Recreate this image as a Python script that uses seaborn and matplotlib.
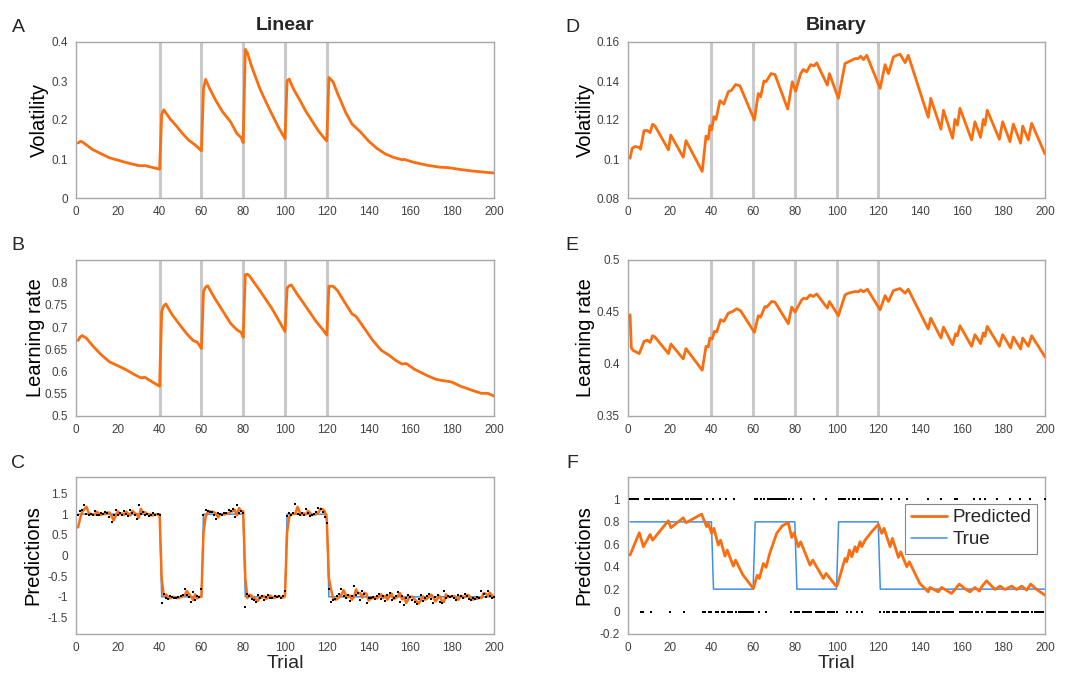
import numpy as np
import pandas as pd
import seaborn as sns
import matplotlib.pyplot as plt
from matplotlib.ticker import FuncFormatter

# change points (gray bars in the volatility / learning-rate panels)
change_points = [40, 60, 80, 100, 120]
block_edges = [0, 40, 60, 80, 100, 120, 200]
linear_levels = [1, -1, 1, -1, 1, -1]
binary_levels = [0.8, 0.2, 0.8, 0.2, 0.8, 0.2]

lin_vol_x = [1, 2, 3, 8, 16, 24, 30, 33, 40,
             41, 42, 45, 48, 51, 54, 57, 60,
             61, 62, 64, 67, 70, 74, 77, 79, 80,
             81, 82, 84, 88, 91, 94, 97, 100,
             101, 102, 104, 107, 110, 113, 116, 119, 120,
             121, 123, 125, 129, 132, 136, 140, 144, 148, 152, 156, 157,
             162, 168, 174, 178, 184, 190, 194, 200]
lin_vol_y = [0.141, 0.145, 0.144, 0.124, 0.103, 0.091, 0.083, 0.083, 0.074,
             0.215, 0.226, 0.203, 0.185, 0.165, 0.148, 0.136, 0.121,
             0.280, 0.304, 0.280, 0.249, 0.222, 0.195, 0.165, 0.155, 0.142,
             0.381, 0.372, 0.338, 0.280, 0.245, 0.212, 0.180, 0.152,
             0.300, 0.305, 0.280, 0.252, 0.222, 0.197, 0.172, 0.152, 0.146,
             0.309, 0.298, 0.270, 0.220, 0.190, 0.170, 0.146, 0.127, 0.113, 0.104, 0.098, 0.099,
             0.091, 0.084, 0.079, 0.078, 0.073, 0.069, 0.067, 0.064]

# B: linear learning rate
lin_lr_x = [1, 2, 3, 5, 8, 12, 16, 20, 24, 28, 31, 33, 36, 40,
            41, 42, 43, 46, 50, 53, 56, 58, 60,
            61, 62, 63, 66, 70, 74, 77, 79, 80,
            81, 82, 83, 88, 94, 100,
            101, 102, 103, 106, 109, 115, 118, 120,
            121, 123, 125, 128, 132, 134, 138, 142, 146, 150, 153, 156, 158,
            162, 168, 172, 175, 178, 180, 184, 190, 194, 197, 200]
lin_lr_y = [0.670, 0.678, 0.681, 0.675, 0.658, 0.638, 0.622, 0.613, 0.604, 0.593, 0.586, 0.587, 0.578, 0.567,
            0.735, 0.748, 0.752, 0.728, 0.703, 0.685, 0.670, 0.666, 0.652,
            0.780, 0.790, 0.793, 0.768, 0.738, 0.708, 0.694, 0.688, 0.677,
            0.818, 0.819, 0.815, 0.782, 0.740, 0.690,
            0.788, 0.793, 0.795, 0.773, 0.753, 0.712, 0.695, 0.682,
            0.792, 0.792, 0.783, 0.760, 0.730, 0.724, 0.697, 0.670, 0.648, 0.636, 0.625, 0.617, 0.618,
            0.605, 0.591, 0.583, 0.580, 0.578, 0.576, 0.567, 0.557, 0.551, 0.551, 0.545]

# C: linear observations and predictions (trials 1..200)
lin_obs = [0.97, 1.08, 1.10, 1.22, 1.00, 0.99, 1.01, 0.98, 1.08, 0.99, 0.97, 1.02, 1.00, 1.06, 1.04, 0.93, 0.80, 0.99, 1.10, 0.98,
           1.03, 0.97, 1.08, 1.00, 0.96, 1.10, 1.02, 0.99, 0.88, 1.22, 1.00, 1.05, 0.98, 1.00, 0.96, 0.97, 1.02, 0.98, 1.01, 0.97,
           -1.14, -0.92, -1.02, -1.05, -0.98, -1.01, -1.04, -1.03, -1.00, -0.97, -0.95, -0.82, -0.96, -1.01, -1.12, -0.88, -1.08, -0.98, -1.00, -0.80,
           0.98, 1.10, 1.08, 1.06, 1.05, 0.99, 0.88, 1.03, 1.00, 0.98, 1.04, 1.02, 1.09, 1.07, 1.12, 0.92, 1.22, 1.04, 1.08, 1.02,
           -1.25, -0.92, -0.97, -1.05, -1.08, -1.12, -0.96, -1.03, -0.97, -1.08, -1.00, -0.95, -1.02, -1.04, -0.98, -1.01, -0.99, -1.03, -0.97, -0.85,
           0.95, 1.02, 0.99, 1.03, 1.24, 1.00, 0.97, 1.04, 0.98, 1.12, 1.02, 0.96, 0.99, 1.01, 1.05, 1.16, 1.12, 1.05, 0.92, 0.78,
           -0.82, -1.12, -1.08, -1.05, -0.98, -0.93, -0.80, -0.97, -1.03, -0.95, -1.10, -0.98, -0.74, -0.96, -0.90, -1.07, -0.85, -0.94, -1.15, -1.02,
           -1.03, -1.00, -1.05, -0.98, -0.92, -1.06, -0.97, -1.10, -0.95, -0.90, -1.08, -1.02, -0.97, -0.88, -1.12, -0.99, -1.20, -1.04, -0.96, -1.00,
           -1.08, -1.13, -1.18, -1.05, -0.95, -1.10, -1.03, -0.97, -0.93, -1.05, -1.15, -1.01, -0.96, -1.12, -1.15, -0.86, -1.03, -0.98, -1.01, -0.97,
           -1.04, -1.08, -0.95, -0.99, -1.02, -0.93, -0.97, -1.05, -1.08, -1.03, -1.06, -1.01, -1.04, -0.86, -0.92, -1.00, -0.87, -0.98, -1.03, -1.01]
lin_pred = [0.68, 0.90, 1.06, 1.12, 1.18, 1.04, 1.00, 1.00, 0.99, 1.06, 1.01, 0.98, 1.01, 1.00, 1.04, 1.04, 0.96, 0.85, 0.96, 1.07,
            1.00, 1.02, 0.98, 1.06, 1.01, 0.97, 1.08, 1.03, 1.00, 0.91, 1.13, 1.04, 1.05, 1.00, 1.00, 0.97, 0.97, 1.00, 0.99, 1.00,
            -0.56, -0.97, -0.94, -1.00, -1.04, -1.00, -1.01, -1.03, -1.03, -1.01, -0.98, -0.96, -0.86, -0.93, -0.99, -1.08, -0.94, -1.04, -1.00, -1.00,
            0.55, 0.93, 1.05, 1.07, 1.06, 1.05, 1.01, 0.92, 1.00, 1.00, 0.99, 1.02, 1.02, 1.07, 1.07, 1.10, 0.97, 1.15, 1.07, 1.07,
            -0.55, -1.03, -0.95, -0.97, -1.03, -1.06, -1.10, -1.00, -1.02, -0.98, -1.05, -1.01, -0.97, -1.01, -1.03, -0.99, -1.00, -1.00, -1.02, -0.98,
            0.55, 0.93, 1.00, 1.00, 1.02, 1.18, 1.05, 0.99, 1.02, 0.99, 1.08, 1.03, 0.98, 0.99, 1.00, 1.04, 1.13, 1.12, 1.07, 0.86,
            -0.55, -0.82, -1.03, -1.07, -1.05, -1.00, -0.95, -0.84, -0.94, -1.01, -0.97, -1.07, -1.00, -0.82, -0.92, -0.91, -1.02, -0.90, -0.93, -1.09,
            -1.04, -1.03, -1.01, -1.04, -0.99, -0.94, -1.03, -0.98, -1.07, -0.97, -0.92, -1.05, -1.03, -0.98, -0.91, -1.06, -1.01, -1.15, -1.06, -0.99,
            -1.00, -1.06, -1.11, -1.16, -1.08, -0.99, -1.07, -1.04, -0.99, -0.95, -1.02, -1.11, -1.04, -0.98, -1.09, -1.13, -0.94, -1.01, -0.99, -1.00,
            -0.98, -1.03, -1.07, -0.98, -0.99, -1.01, -0.95, -0.97, -1.03, -1.07, -1.04, -1.05, -1.02, -1.03, -0.91, -0.92, -0.98, -0.90, -0.96, -1.01]

# D: binary volatility (vertices)
bin_vol_x = [1, 2, 3.4, 5.4, 6, 7.7, 9.3, 10.6, 11.8, 12.9, 19.4, 20.5, 26.5, 27.8, 35.6, 37.4, 38.5, 39.3, 40.1,
             41.2, 42.2, 44.1, 46, 48.1, 49.7, 51.6, 53.7, 60.6, 62.5, 63.6, 65.2, 66.2, 68.6, 70.5, 76.6, 78.8,
             80.4, 82.8, 84.1, 85.7, 87.6, 89.2, 90.5, 95.6, 96.6, 100.9, 104.1, 105.7, 108.9, 110.5, 111.6, 112.9,
             114.5, 120.9, 123.3, 124.9, 127.3, 128.9, 130.5, 132.9, 134.4, 144, 145.2, 150.1, 151.3, 155.7, 156.8,
             158, 159.2, 164.8, 166.4, 169.1, 170.4, 171.2, 172.3, 178.1, 179.7, 183.2, 184.8, 188.3, 189.3, 192,
             193.6, 200]
bin_vol_y = [0.1004, 0.1055, 0.1064, 0.1060, 0.1050, 0.1146, 0.1146, 0.1135, 0.1178, 0.1170, 0.1047, 0.1123, 0.1009,
             0.1094, 0.0936, 0.1118, 0.1101, 0.1171, 0.1149, 0.1217, 0.1203, 0.1299, 0.1282, 0.1345, 0.1353, 0.1382,
             0.1375, 0.1200, 0.1336, 0.1319, 0.1400, 0.1396, 0.1438, 0.1433, 0.1256, 0.1396, 0.1348, 0.1438, 0.1459,
             0.1447, 0.1484, 0.1477, 0.1493, 0.1379, 0.1438, 0.1311, 0.1490, 0.1498, 0.1515, 0.1515, 0.1527, 0.1510,
             0.1532, 0.1362, 0.1484, 0.1438, 0.1523, 0.1532, 0.1537, 0.1494, 0.1532, 0.1214, 0.1311, 0.1153, 0.1250,
             0.1106, 0.1203, 0.1174, 0.1260, 0.1098, 0.1191, 0.1111, 0.1203, 0.1174, 0.1250, 0.1101, 0.1191, 0.1089,
             0.1179, 0.1081, 0.1169, 0.1098, 0.1183, 0.1026]

# E: binary learning rate (vertices)
bin_lr_x = [1, 1.6, 2.6, 5.4, 7.7, 9.3, 10.6, 11.8, 12.9, 19.4, 20.6, 26.5, 27.8, 35.6, 37.4, 38.5, 39.3, 40.4,
            41.4, 42.5, 44.4, 46, 48.1, 50.2, 52.1, 54, 60.6, 62.5, 63.6, 65.7, 66.5, 68.9, 70.5, 76.9, 78.5, 80.1,
            83.3, 84.4, 85.7, 87.3, 88.9, 90.5, 95.6, 96.6, 100.9, 104.1, 105.7, 108.9, 110.5, 111.6, 112.9, 114.8,
            120.9, 123.3, 124.9, 127.3, 130.5, 132.9, 134.4, 144, 145.2, 150.1, 151.3, 155.7, 157.1, 158, 159.2,
            164.8, 166.4, 169.1, 170.4, 171.2, 172.3, 178.1, 179.7, 183.5, 184.8, 188.3, 189.3, 192, 193.6, 200]
bin_lr_y = [0.4473, 0.4154, 0.4129, 0.4100, 0.4218, 0.4228, 0.4208, 0.4272, 0.4260, 0.4100, 0.4192, 0.4049, 0.4148,
            0.3940, 0.4170, 0.4164, 0.4250, 0.4240, 0.4314, 0.4307, 0.4426, 0.4410, 0.4489, 0.4505, 0.4531, 0.4512,
            0.4304, 0.4464, 0.4451, 0.4553, 0.4547, 0.4601, 0.4595, 0.4387, 0.4547, 0.4499, 0.4617, 0.4633, 0.4627,
            0.4665, 0.4649, 0.4674, 0.4537, 0.4601, 0.4464, 0.4665, 0.4681, 0.4697, 0.4694, 0.4713, 0.4694, 0.4719,
            0.4521, 0.4658, 0.4601, 0.4706, 0.4726, 0.4681, 0.4719, 0.4336, 0.4441, 0.4250, 0.4355, 0.4186, 0.4291,
            0.4272, 0.4368, 0.4170, 0.4282, 0.4196, 0.4298, 0.4266, 0.4362, 0.4170, 0.4282, 0.4154, 0.4260, 0.4145,
            0.4250, 0.4170, 0.4272, 0.4068]

# F: binary outcomes (trials 1..200) and predicted probability (vertices)
bin_obs_rows = ["11111001110111111110",
                "11111101111111100100",
                "10010010001000000000",
                "11011011111111111010",
                "00100000100000100000",
                "11110101101011111111",
                "01000100010001000000",
                "00010000010000001100",
                "00000100101000001000",
                "00100001000010000001"]
bin_pred_x = [1, 5.4, 7.4, 10.6, 11.8, 19.3, 20.6, 26.5, 27.8, 35.3, 37.7, 38.5, 40.1, 41.2, 43.3, 44.4, 46.5, 47.6,
              50.5, 51.6, 55, 60.1, 62, 63, 64.9, 66.2, 68, 71.3, 74, 76.9, 78.5, 79.6, 81.7, 82.8, 87.3, 88.6, 93.7,
              95, 99.8, 100.4, 104.1, 104.9, 106.2, 107.3, 108.9, 109.7, 111.3, 112.1, 113.7, 117, 120.1, 121.7,
              122.8, 125.7, 126.8, 129.7, 130.8, 133.7, 134.9, 140, 144, 144.8, 148.8, 150.4, 155.2, 158.9, 162.1,
              164, 166.4, 168.5, 169.6, 172, 176, 178.4, 180.8, 184, 186.4, 188.8, 191.2, 193.1, 196, 200]
bin_pred_y = [0.504, 0.703, 0.578, 0.688, 0.637, 0.810, 0.748, 0.837, 0.792, 0.869, 0.757, 0.787, 0.697, 0.742, 0.593,
              0.637, 0.495, 0.548, 0.405, 0.459, 0.330, 0.206, 0.325, 0.295, 0.429, 0.394, 0.520, 0.697, 0.765, 0.792,
              0.661, 0.703, 0.578, 0.623, 0.414, 0.459, 0.295, 0.340, 0.227, 0.236, 0.474, 0.444, 0.548, 0.489, 0.578,
              0.533, 0.623, 0.578, 0.637, 0.715, 0.777, 0.697, 0.742, 0.578, 0.652, 0.483, 0.533, 0.400, 0.444, 0.250,
              0.176, 0.215, 0.176, 0.215, 0.161, 0.245, 0.197, 0.176, 0.215, 0.182, 0.221, 0.274, 0.197, 0.227, 0.197,
              0.227, 0.197, 0.227, 0.191, 0.245, 0.197, 0.146]

trials = np.arange(1, 201)
bin_obs = [int(c) for c in "".join(bin_obs_rows)]
block_len = np.diff(block_edges)
lin_true = np.repeat(linear_levels, block_len)
bin_true = np.repeat(binary_levels, block_len)

ORANGE = '#fb6e10'
BLUE = '#3f8fe8'
GRAY_BAR = '#c9c9c9'
TICK_COL = '#404040'
SPINE_COL = '#a8a8a8'

sns.set_style("white")
plt.rcParams['font.family'] = ['Liberation Sans', 'DejaVu Sans']

fig = plt.figure(figsize=(10.72, 6.76), dpi=100)
W, H = 1072, 676
def add_ax(x0, y0, x1, y1):
    return fig.add_axes([x0 / W, 1 - y1 / H, (x1 - x0) / W, (y1 - y0) / H])

axA = add_ax(76, 42, 494, 198)
axB = add_ax(76, 260, 494, 416)
axC = add_ax(76, 477, 494, 634)
axD = add_ax(628, 42, 1045, 198)
axE = add_ax(628, 260, 1045, 416)
axF = add_ax(628, 477, 1045, 634)

def g_fmt(v, pos):
    return '%g' % round(v, 4)

def style(ax, ylim, yticks, ylabel, labx):
    ax.set_xlim(0, 200)
    ax.set_ylim(*ylim)
    ax.set_xticks(range(0, 201, 20))
    ax.set_yticks(yticks)
    ax.yaxis.set_major_formatter(FuncFormatter(g_fmt))
    ax.tick_params(labelsize=8.5, colors=TICK_COL, direction='in', length=0, pad=6)
    for sp in ax.spines.values():
        sp.set_color(SPINE_COL)
        sp.set_linewidth(1.0)
    ax.set_ylabel(ylabel, fontsize=14.5, color='black')
    ax.yaxis.set_label_coords(labx, 0.5)
    ax.set_xlabel('')

def trial_label(ax):
    ax.set_xlabel('Trial', fontsize=14, va='center')
    ax.xaxis.set_label_coords(0.5, -0.19)

# A
for c in change_points:
    axA.axvline(c, color=GRAY_BAR, lw=2.2, zorder=1)
sns.lineplot(x=lin_vol_x, y=lin_vol_y, ax=axA, color=ORANGE, linewidth=2.0, zorder=3)
style(axA, (0, 0.4), [0, 0.1, 0.2, 0.3, 0.4], 'Volatility', -0.064)
axA.set_title('Linear', fontsize=14, fontweight='bold', pad=9)

# B
for c in change_points:
    axB.axvline(c, color=GRAY_BAR, lw=2.2, zorder=1)
sns.lineplot(x=lin_lr_x, y=lin_lr_y, ax=axB, color=ORANGE, linewidth=2.0, zorder=3)
style(axB, (0.5, 0.851), [0.5, 0.55, 0.6, 0.65, 0.7, 0.75, 0.8], 'Learning rate', -0.073)

# C
sns.lineplot(x=trials, y=lin_true, ax=axC, color=BLUE, linewidth=1.1, zorder=2)
sns.lineplot(x=trials, y=lin_pred, ax=axC, color=ORANGE, linewidth=1.8, zorder=3)
sns.scatterplot(x=trials, y=lin_obs, ax=axC, color='black', s=3, marker='s', linewidth=0, zorder=4)
style(axC, (-1.9, 1.9), [-1.5, -1, -0.5, 0, 0.5, 1, 1.5], 'Predictions', -0.08)
trial_label(axC)

# D
for c in change_points:
    axD.axvline(c, color=GRAY_BAR, lw=2.2, zorder=1)
sns.lineplot(x=bin_vol_x, y=bin_vol_y, ax=axD, color=ORANGE, linewidth=2.0, zorder=3)
style(axD, (0.08, 0.16), [0.08, 0.1, 0.12, 0.14, 0.16], 'Volatility', -0.08)
axD.set_title('Binary', fontsize=14, fontweight='bold', pad=9)

# E
for c in change_points:
    axE.axvline(c, color=GRAY_BAR, lw=2.2, zorder=1)
sns.lineplot(x=bin_lr_x, y=bin_lr_y, ax=axE, color=ORANGE, linewidth=2.0, zorder=3)
style(axE, (0.35, 0.5), [0.35, 0.4, 0.45, 0.5], 'Learning rate', -0.08)

# F
sns.scatterplot(x=trials, y=bin_obs, ax=axF, color='black', s=3.5, marker='s', linewidth=0, zorder=4)
sns.lineplot(x=trials, y=bin_true, ax=axF, color=BLUE, linewidth=1.1, zorder=2, label='True')
sns.lineplot(x=bin_pred_x, y=bin_pred_y, ax=axF, color=ORANGE, linewidth=2.0, zorder=3, label='Predicted')
style(axF, (-0.2, 1.2), [-0.2, 0, 0.2, 0.4, 0.6, 0.8, 1], 'Predictions', -0.084)
trial_label(axF)
handles, labels = axF.get_legend_handles_labels()
order = [labels.index('Predicted'), labels.index('True')]
leg = axF.legend([handles[i] for i in order], [labels[i] for i in order],
                 loc='upper right', bbox_to_anchor=(0.98, 0.83), borderaxespad=0,
                 fontsize=13.5, frameon=True, fancybox=False, framealpha=1,
                 edgecolor='#888888', handlelength=1.9, handletextpad=0.3,
                 borderpad=0.3, labelspacing=0.25)
leg.get_frame().set_linewidth(0.8)

# panel letters
for letter, (px, py) in zip('ABCDEF', [(18, 27), (18, 245), (18, 463), (572, 27), (572, 245), (572, 463)]):
    fig.text(px / W, 1 - py / H, letter, fontsize=14, ha='center', va='center')

fig.savefig('out.png', dpi=100)
plt.close('all')
